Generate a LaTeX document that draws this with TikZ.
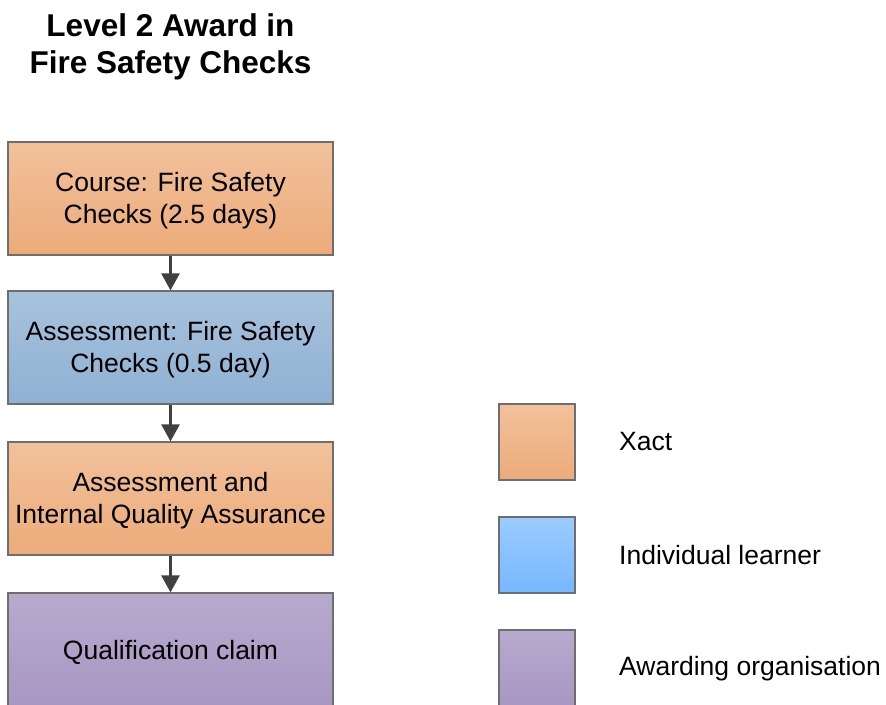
\documentclass[tikz,border=0pt]{standalone}
\usepackage{fontspec}
\setmainfont{Liberation Sans}
\usetikzlibrary{arrows.meta}
\definecolor{orT}{HTML}{F2C19C}
\definecolor{orB}{HTML}{ECAB79}
\definecolor{blT}{HTML}{A7C2DD}
\definecolor{blB}{HTML}{8FB1D3}
\definecolor{lbT}{HTML}{9CCBFF}
\definecolor{lbB}{HTML}{76B7FF}
\definecolor{puT}{HTML}{B6AACD}
\definecolor{puB}{HTML}{A897C3}
\definecolor{edge}{HTML}{6E6E6E}
\definecolor{arr}{HTML}{404040}
\tikzset{
  box/.style={draw=edge, line width=1.2pt, minimum width=325pt, minimum height=113pt,
    inner sep=0pt},
  boxtext/.style={inner sep=0pt, align=center, font=\fontsize{26.5}{32}\selectfont},
  key/.style={draw=edge, line width=1.2pt, minimum width=76pt, minimum height=76pt, inner sep=0pt},
  keytext/.style={anchor=west, inner sep=0pt, font=\fontsize{26.5}{32}\selectfont},
  orange/.style={top color=orT, bottom color=orB},
  blue/.style={top color=blT, bottom color=blB},
  lblue/.style={top color=lbT, bottom color=lbB},
  purple/.style={top color=puT, bottom color=puB},
  flow/.style={draw=arr, line width=2.5pt, -{Triangle[width=18pt,length=17pt]}}
}
\begin{document}
\begin{tikzpicture}[x=1pt,y=-1pt]
\useasboundingbox (0,0) rectangle (886,704);
\clip (0,0) rectangle (886,704);
\node[inner sep=0pt, align=center, font=\fontsize{31.5}{37}\bfseries\selectfont] (title) at (170.5,46.5) {Level 2 Award in\\Fire Safety Checks};
\node[box, orange] (b1) at (170.5,198.5) {};
\node[box, blue] (b2) at (170.5,347.5) {};
\node[box, orange] (b3) at (170.5,498.5) {};
\node[box, purple] (b4) at (170.5,649.5) {};
\node[boxtext] (l1) at (170.5,201) {Course: Fire Safety\\Checks (2.5 days)};
\node[boxtext] (l2) at (170.5,350) {Assessment: Fire Safety\\Checks (0.5 day)};
\node[boxtext] (l3) at (170.5,501) {Assessment and\\Internal Quality Assurance};
\node[boxtext] (l4) at (170.5,652) {Qualification claim};
\draw[flow] (b1.south) -- (b2.north);
\draw[flow] (b2.south) -- (b3.north);
\draw[flow] (b3.south) -- (b4.north);
\node[key, orange] (k1) at (537,442) {};
\node[key, lblue] (k2) at (537,555) {};
\node[key, purple] (k3) at (537,668) {};
\node[keytext] (t1) at (619,442) {Xact};
\node[keytext] (t2) at (619,555.5) {Individual learner};
\node[keytext] (t3) at (619,669) {Awarding organisation};
\end{tikzpicture}
\end{document}
